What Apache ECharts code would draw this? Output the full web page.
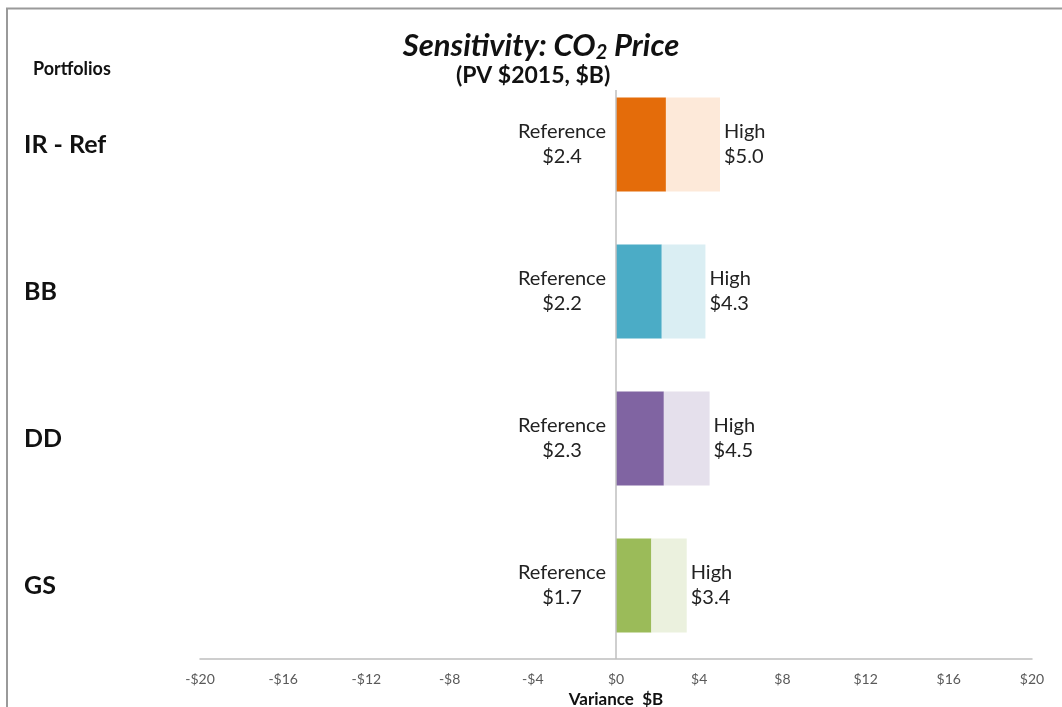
<!DOCTYPE html>
<html>
<head>
<meta charset="utf-8">
<script src="https://cdn.jsdelivr.net/npm/echarts@6/dist/echarts.min.js"></script>
<style>html,body{margin:0;padding:0;background:#fff}#c{width:1062px;height:707px}</style>
</head>
<body>
<div id="c"></div>
<script>
var categories = ['IR - Ref', 'BB', 'DD', 'GS'];
var referenceValues = [2.4, 2.2, 2.3, 1.7];
var highValues = [5.0, 4.3, 4.5, 3.4];
var xTicks = [-20, -16, -12, -8, -4, 0, 4, 8, 12, 16, 20];
var darkColors = ['#E46C0A', '#4BACC6', '#8064A2', '#9BBB59'];
var lightColors = ['#FDE9D9', '#DAEEF3', '#E5E0EC', '#EBF1DE'];

var FONT = 'Lato, "Open Sans", sans-serif';
var chart = echarts.init(document.getElementById('c'));

function fmtMoney(v) { return (v < 0 ? '-$' : '$') + Math.abs(v); }

var refData = referenceValues.map(function (v, i) {
  return { value: v, itemStyle: { color: darkColors[i] } };
});
var highData = highValues.map(function (v, i) {
  return { value: +(v - referenceValues[i]).toFixed(2), itemStyle: { color: lightColors[i] } };
});

chart.setOption({
  animation: false,
  backgroundColor: '#fff',
  grid: { left: 200, right: 30, top: 71, height: 588, outerBoundsMode: 'none', containLabel: false },
  title: [{
    text: '{t|Sensitivity: CO}{s|2}{t| Price}',
    left: 536, top: 23, textAlign: 'center',
    textStyle: {
      rich: {
        t: { fontFamily: FONT, fontSize: 31, fontWeight: 'bold', fontStyle: 'italic', color: '#111' },
        s: { fontFamily: FONT, fontSize: 20, fontWeight: 'bold', fontStyle: 'italic', color: '#111', padding: [15, 0, 0, 0] }
      }
    }
  }],
  graphic: [
    { type: 'rect', shape: { x: 7, y: 8.5, width: 1200, height: 900 }, style: { fill: 'none', stroke: '#9a9a9a', lineWidth: 2 }, silent: true },
    { type: 'text', left: 454, top: 64, z: 100, style: { text: '(PV $2015, $B)', font: 'bold 23px ' + FONT, fill: '#111', backgroundColor: '#fff', padding: [0, 8, 3, 2] } },
    { type: 'text', left: 33, top: 60, style: { text: 'Portfolios', font: 'bold 18px ' + FONT, fill: '#111' } }
  ],
  xAxis: {
    type: 'value', min: -20, max: 20, interval: 4,
    axisLine: { show: true, onZero: false, lineStyle: { color: '#bfbfbf', width: 1.5 } },
    axisTick: { show: false },
    splitLine: { show: false },
    axisLabel: {
      color: '#595959', fontFamily: FONT, fontSize: 14, margin: 13,
      formatter: function (v) { return xTicks.indexOf(v) >= 0 ? fmtMoney(v) : ''; }
    },
    name: 'Variance  $B', nameLocation: 'middle', nameGap: 32,
    nameTextStyle: { fontFamily: FONT, fontSize: 17, fontWeight: 'bold', color: '#111' }
  },
  yAxis: {
    type: 'category', data: categories, inverse: true,
    axisLine: { show: false, onZero: false },
    axisTick: { show: false },
    splitLine: { show: false },
    axisLabel: { align: 'left', margin: 176, fontFamily: FONT, fontSize: 25, fontWeight: 'bold', color: '#111' }
  },
  series: [
    {
      name: 'Reference', type: 'bar', stack: 'a', data: refData, barCategoryGap: '36%',
      label: {
        show: true, position: 'left', distance: 9, align: 'center', offset: [-45, 0],
        fontFamily: FONT, fontSize: 20, lineHeight: 25, color: '#222',
        formatter: function (p) { return 'Reference\n$' + referenceValues[p.dataIndex].toFixed(1); }
      },
      markLine: {
        silent: true, symbol: 'none', label: { show: false },
        lineStyle: { color: '#bfbfbf', type: 'solid', width: 1.5 },
        data: [{ xAxis: 0 }]
      }
    },
    {
      name: 'High', type: 'bar', stack: 'a', data: highData,
      label: {
        show: true, position: 'right', distance: 4, align: 'left',
        fontFamily: FONT, fontSize: 20, lineHeight: 25, color: '#222',
        formatter: function (p) { return 'High\n$' + highValues[p.dataIndex].toFixed(1); }
      }
    }
  ]
});
</script>
</body>
</html>
